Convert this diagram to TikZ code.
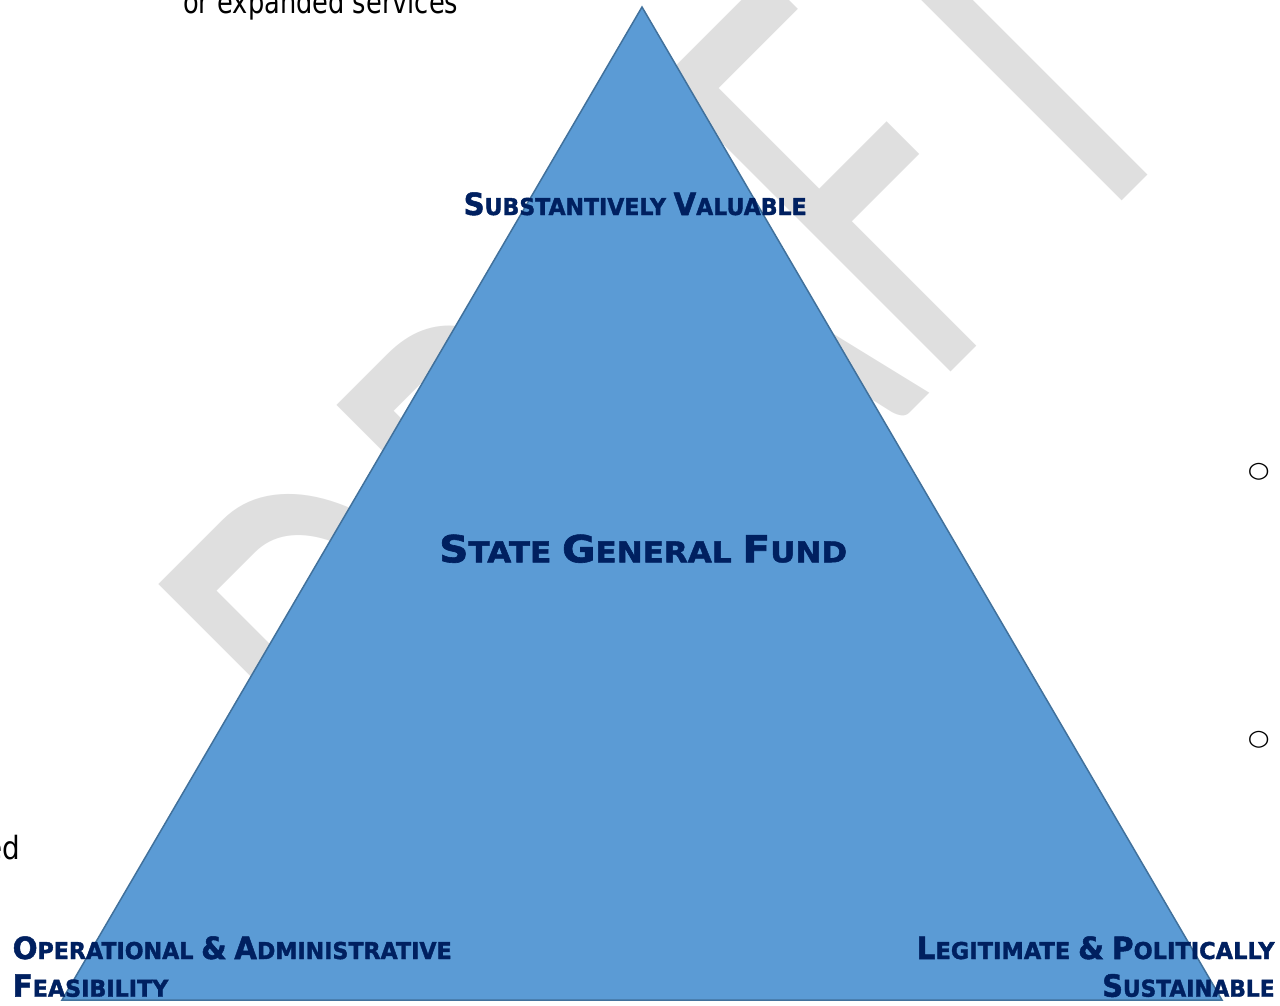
\documentclass[tikz,border=0pt]{standalone}
\usepackage{fontspec}
\usepackage{graphicx}
\newfontfamily\wmfont{Carlito}
\newfontfamily\labfont{DejaVu Sans}[BoldFeatures={FakeBold=1.6}]
\newfontfamily\bodyfont{DejaVu Sans}
\newfontfamily\bulfont{DejaVu Sans}
\definecolor{trifill}{HTML}{5B9BD5}
\definecolor{triedge}{HTML}{41719C}
\definecolor{navy}{HTML}{002060}
\definecolor{wmgray}{HTML}{DFDFDF}
\newsavebox\fitsbox
\newlength\fitlen
\newcommand\fitx[2]{\sbox\fitsbox{#2}\setlength\fitlen{\wd\fitsbox}\pgfmathsetmacro\fitfac{#1/\fitlen}\scalebox{\fitfac}[1]{\usebox\fitsbox}}
\def\scBsz{30.6}\def\scSsz{23.2}
\newcommand\scbig[1]{{\fontsize{\scBsz pt}{\scBsz pt}\selectfont #1}}
\newcommand\scsml[1]{{\fontsize{\scSsz pt}{\scSsz pt}\selectfont #1}}
\tikzset{
  label/.style={inner sep=0pt, text=navy, font=\labfont\bfseries},
  body/.style={inner sep=0pt, text=black, font=\bodyfont\fontsize{32}{32}\selectfont},
  bullet/.style={inner sep=0pt, text=black, font=\bulfont\fontsize{25}{25}\selectfont},
  tri/.style={fill=trifill, draw=triedge, line width=1.5pt, line join=miter}
}
\begin{document}
\begin{tikzpicture}[x=1pt,y=-1pt]
\useasboundingbox (0,0) rectangle (1280,1005);
% watermark
\node[rotate=45, xscale=0.639, anchor=base west, inner sep=0pt, text=wmgray,
      font=\wmfont\fontsize{640}{640}\selectfont] (draft) at (429,894.1) {DRAFT};
% background document text
\node[body, anchor=base west] (txt1) at (183,13.3) {\fitx{275}{or expanded services}};
\node[body, anchor=base east] (txt2) at (20.5,859.3) {\scalebox{0.87}[1]{ed}};
\node[bullet, yscale=0.88] (b1) at (1258.7,472.2) {○};
\node[bullet, yscale=0.88] (b2) at (1258.7,739.5) {○};
% triangle
\coordinate (apex) at (642,7);
\coordinate (bl) at (62,1000);
\coordinate (br) at (1222,1000);
\draw[tri] (apex) -- (bl) -- (br) -- cycle;
% labels
\node[label, anchor=base west] (top) at (463.5,215)
  {\fitx{343}{\scbig{S}\scsml{UBSTANTIVELY }\scbig{V}\scsml{ALUABLE}}};
\node[label, anchor=base west] (mid) at (439,562.3)
  {\def\scBsz{37.4}\def\scSsz{28.6}\fitx{408}{\scbig{S}\scsml{TATE }\scbig{G}\scsml{ENERAL }\scbig{F}\scsml{UND}}};
\node[label, anchor=base west] (left1) at (12.5,959)
  {\fitx{439}{\scbig{O}\scsml{PERATIONAL }\scbig{\&}\scsml{ }\scbig{A}\scsml{DMINISTRATIVE}}};
\node[label, anchor=base west] (left2) at (12.5,996.7)
  {\fitx{155.7}{\scbig{F}\scsml{EASIBILITY}}};
\node[label, anchor=base east] (right1) at (1274.8,959)
  {\fitx{358}{\scbig{L}\scsml{EGITIMATE }\scbig{\&}\scsml{ }\scbig{P}\scsml{OLITICALLY}}};
\node[label, anchor=base east] (right2) at (1274.8,996.7)
  {\fitx{172.3}{\scbig{S}\scsml{USTAINABLE}}};
\end{tikzpicture}
\end{document}
